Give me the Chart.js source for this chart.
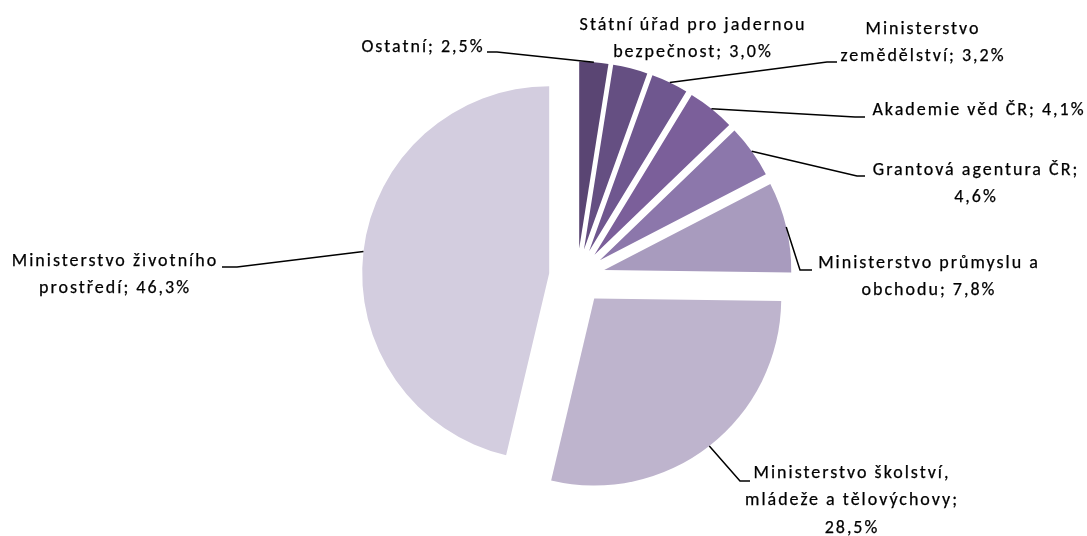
<!DOCTYPE html>
<html><head><meta charset="utf-8">
<script src="https://cdn.jsdelivr.net/npm/chart.js@4"></script>
<style>html,body{margin:0;padding:0;background:#fff}#wrap{width:1087px;height:536px;position:relative}</style>
</head><body><div id="wrap"><canvas id="c"></canvas></div>
<script>
// ---- data ----
const categories = ["Ostatní","Státní úřad pro jadernou bezpečnost","Ministerstvo zemědělství","Akademie věd ČR","Grantová agentura ČR","Ministerstvo průmyslu a obchodu","Ministerstvo školství, mládeže a tělovýchovy","Ministerstvo životního prostředí"];
const shares = [2.5, 3.0, 3.2, 4.1, 4.6, 7.8, 28.5, 46.3];
const labelLines = [
  ["Ostatní; 2,5%"],
  ["Státní úřad pro jadernou","bezpečnost; 3,0%"],
  ["Ministerstvo","zemědělství; 3,2%"],
  ["Akademie věd ČR; 4,1%"],
  ["Grantová agentura ČR;","4,6%"],
  ["Ministerstvo průmyslu a","obchodu; 7,8%"],
  ["Ministerstvo školství,","mládeže a tělovýchovy;","28,5%"],
  ["Ministerstvo životního","prostředí; 46,3%"]
];
const sliceColors = ["#5A4573","#654F82","#6F578F","#7B5F9A","#8C77AB","#A89BBE","#BEB4CD","#D3CDDF"];

// ---- layout / style ----
const RADIUS = 187;
const EXPLODE = 28;
const FONT = '18px Carlito, Lato, "Liberation Sans", sans-serif';
const LETTER_SPACING = '2px';
const LINE_H = 27.5;
// label centre x, first-line centre y, leader anchor (label side) and stub length (signed)
const labelLayout = [
  {cx:422, cy:47,  ax:487, ay:52,  stub:10},
  {cx:692, cy:25,  ax:null},
  {cx:922, cy:29,  ax:837, ay:62,  stub:-10},
  {cx:978, cy:110, ax:865, ay:117, stub:-10},
  {cx:975, cy:170, ax:865, ay:176, stub:-8},
  {cx:928, cy:263, ax:812, ay:270, stub:-12},
  {cx:851, cy:473, ax:750, ay:481, stub:-10},
  {cx:114, cy:261, ax:222, ay:267, stub:15}
];

// explode every slice by the same distance along its bisector
const explodePlugin = {
  id: 'uniformExplode',
  afterDatasetUpdate(chart, args) {
    const meta = chart.getDatasetMeta(args.index);
    meta.data.forEach((arc) => {
      const mid = (arc.startAngle + arc.endAngle) / 2;
      arc.x += Math.cos(mid) * EXPLODE;
      arc.y += Math.sin(mid) * EXPLODE;
    });
  }
};

const labelPlugin = {
  id: 'pieLabels',
  afterDatasetsDraw(chart) {
    const ctx = chart.ctx;
    const meta = chart.getDatasetMeta(0);
    ctx.save();
    ctx.font = FONT;
    if ('letterSpacing' in ctx) ctx.letterSpacing = LETTER_SPACING;
    ctx.fillStyle = '#000';
    ctx.textAlign = 'center';
    ctx.textBaseline = 'middle';
    ctx.strokeStyle = '#000';
    meta.data.forEach((arc, i) => {
      const L = labelLayout[i];
      labelLines[i].forEach((t, k) => {
        ctx.fillText(t, L.cx + 1, L.cy + k*LINE_H);
        ctx.lineWidth = 0.25;
        ctx.strokeText(t, L.cx + 1, L.cy + k*LINE_H);
      });
      if (L.ax !== null) {
        const mid = (arc.startAngle + arc.endAngle)/2;
        const ex = arc.x + Math.cos(mid)*arc.outerRadius;
        const ey = arc.y + Math.sin(mid)*arc.outerRadius;
        ctx.lineWidth = 1.5;
        ctx.beginPath();
        ctx.moveTo(L.ax, L.ay);
        ctx.lineTo(L.ax + L.stub, L.ay);
        ctx.lineTo(ex, ey);
        ctx.stroke();
      }
    });
    ctx.restore();
  }
};

new Chart(document.getElementById('c'), {
  type: 'pie',
  data: {
    labels: categories,
    datasets: [{
      data: shares,
      backgroundColor: sliceColors,
      borderWidth: 0,
      offset: 0
    }]
  },
  options: {
    responsive: true,
    maintainAspectRatio: false,
    animation: false,
    radius: RADIUS,
    layout: { padding: { left: 167, right: 100, top: 58, bottom: 41 } },
    plugins: { legend: { display: false }, tooltip: { enabled: false } }
  },
  plugins: [explodePlugin, labelPlugin]
});
</script>
</body></html>
